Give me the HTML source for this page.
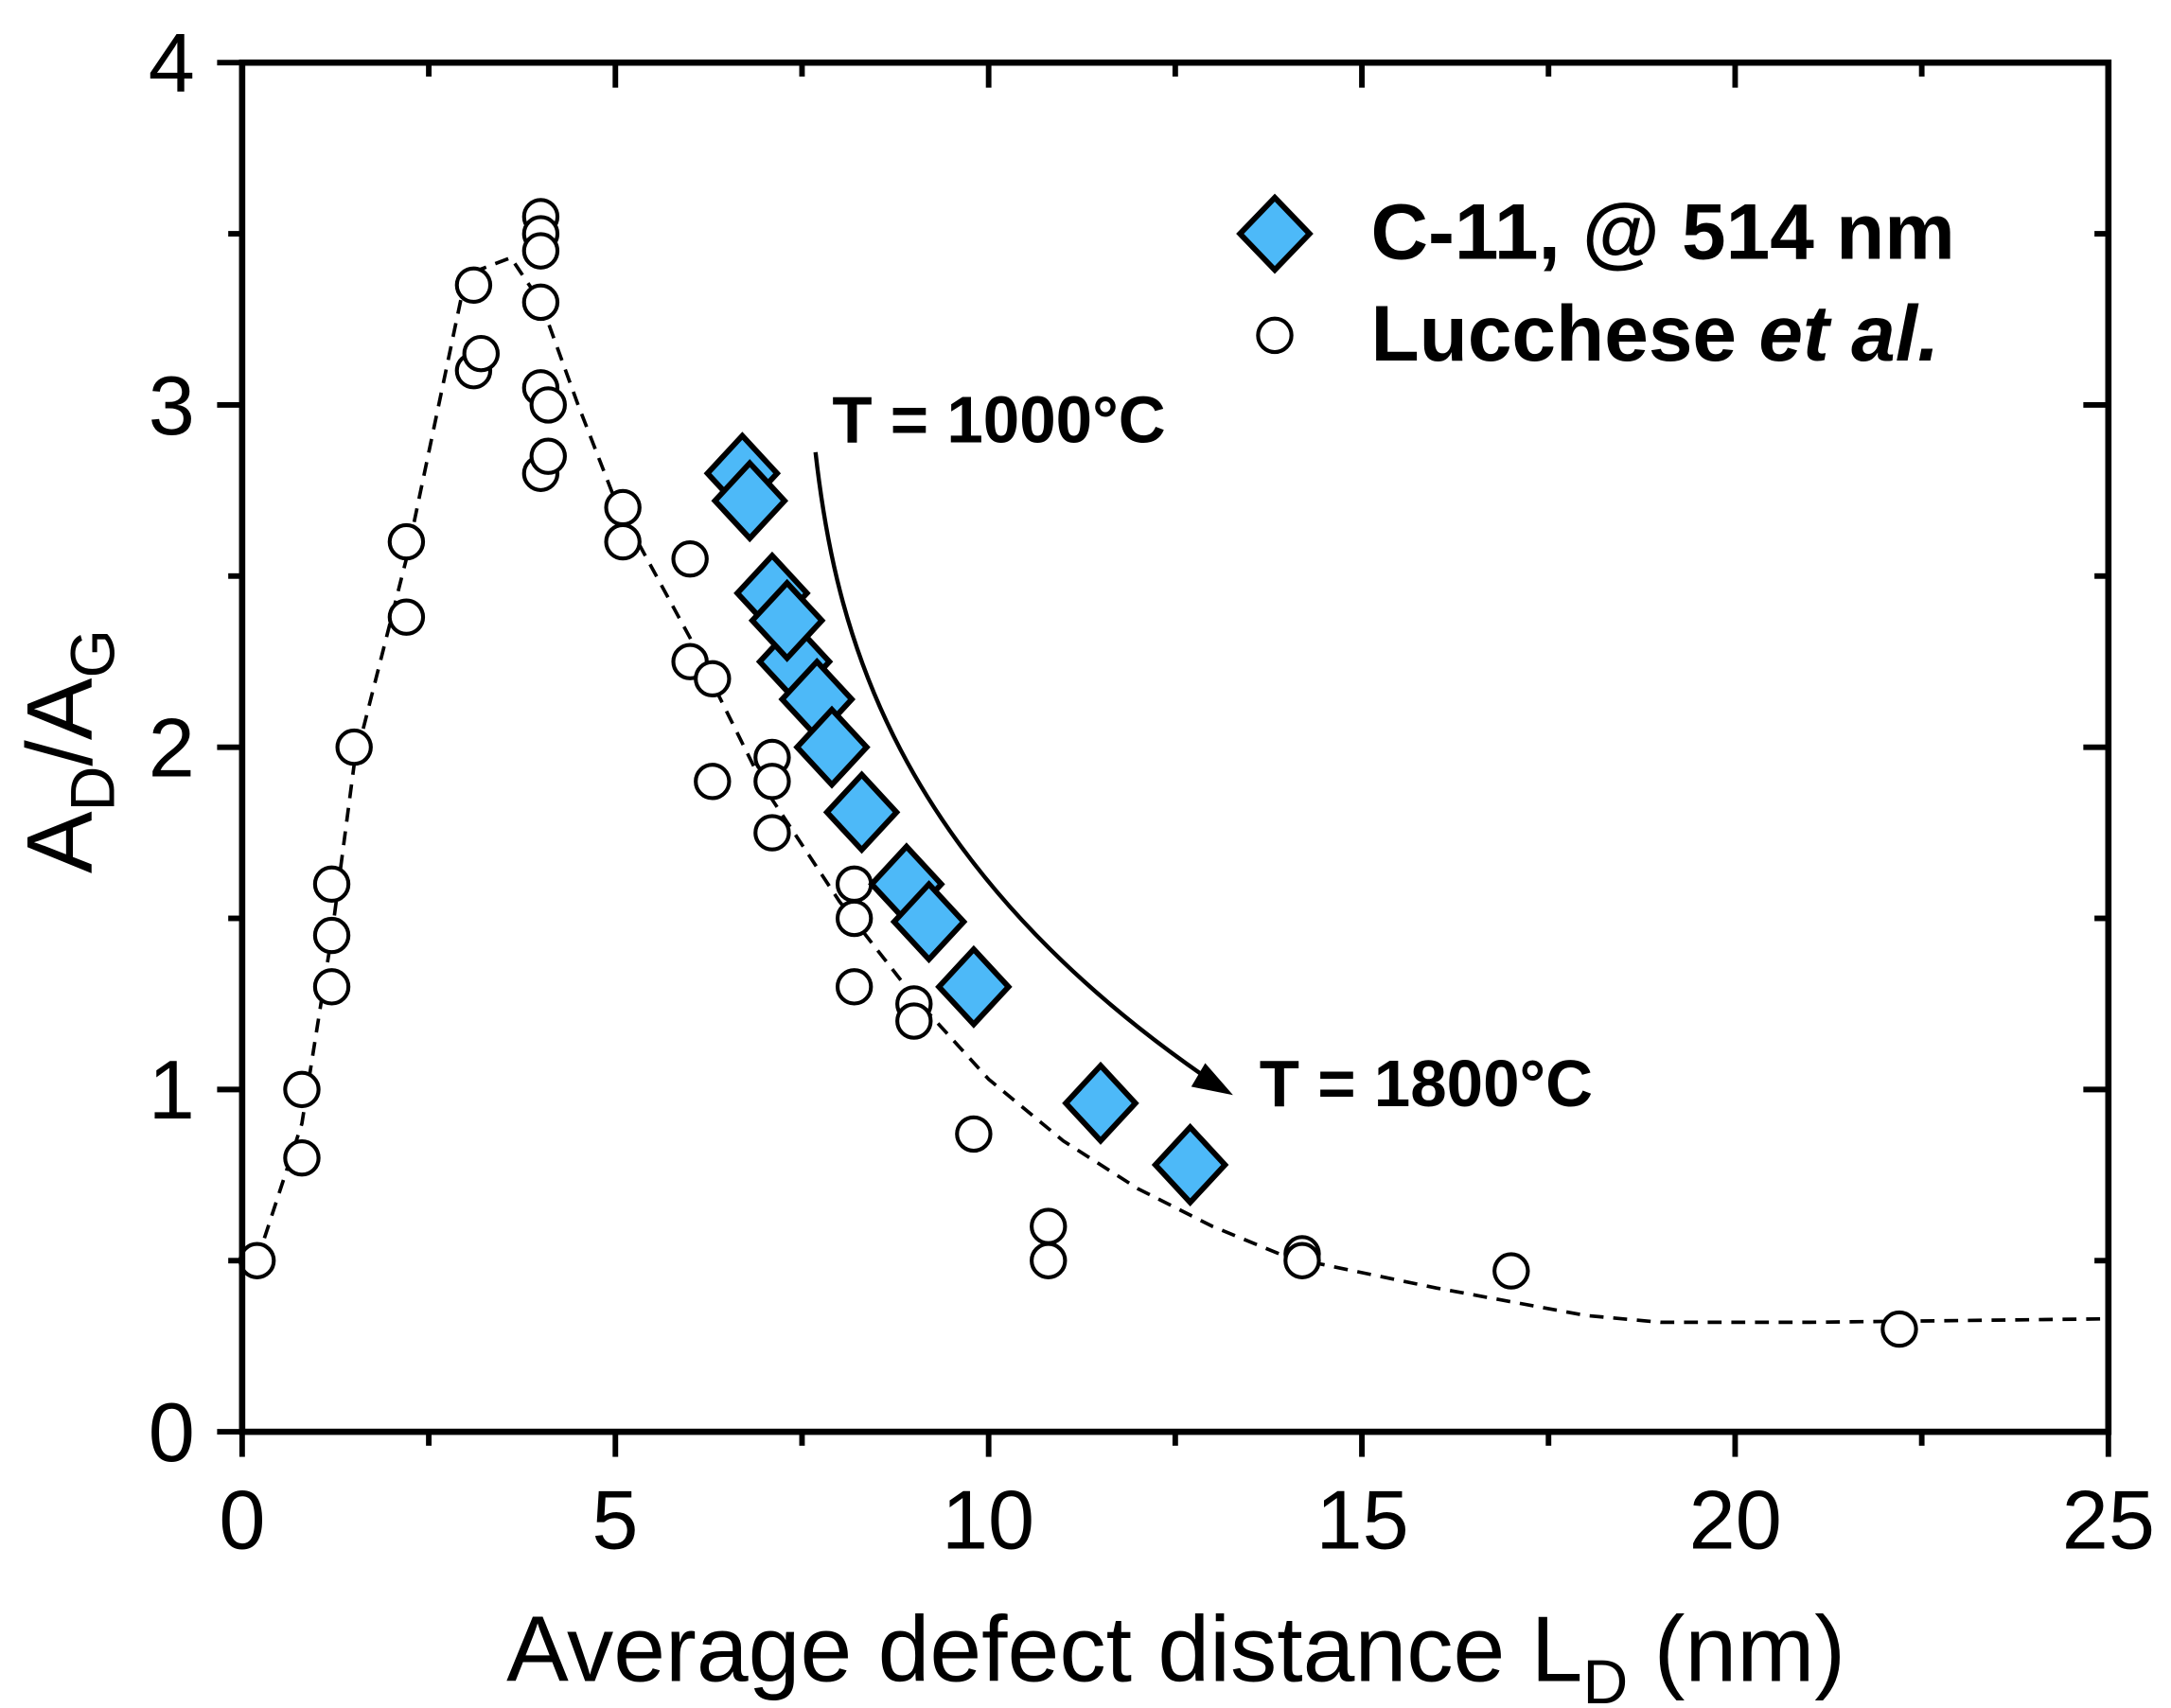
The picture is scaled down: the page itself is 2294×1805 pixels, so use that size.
<!DOCTYPE html>
<html><head><meta charset="utf-8"><style>html,body{margin:0;padding:0;background:#fff}svg{display:block}</style></head>
<body>
<svg id="s" xmlns="http://www.w3.org/2000/svg" width="2294" height="1805" viewBox="0 0 1560 1227.5" preserveAspectRatio="none" font-family="Liberation Sans, Arial, sans-serif">
<rect width="1560" height="1227.5" fill="#fff"/>
<g id="dash"></g>
<g id="pts"></g>
<g id="axes"></g>
<path d="M586,325 C600,450 640,620 872,778" fill="none" stroke="#000" stroke-width="3"/>
<polygon points="886,787 856,781 866,764" fill="#000"/>
<text x="598" y="318" font-size="47" font-weight="bold">T = 1000°C</text>
<text x="905" y="795" font-size="47" font-weight="bold">T = 1800°C</text>
<polygon points="916,142 941,168 916,194 891,168" fill="#4DB9F8" stroke="#000" stroke-width="4"/>
<text x="985" y="186" font-size="57" font-weight="bold">C-11, @ 514 nm</text>
<circle cx="916" cy="241" r="12" fill="#fff" stroke="#000" stroke-width="2.8"/>
<text x="985" y="259" font-size="57" font-weight="bold">Lucchese <tspan font-style="italic">et al.</tspan></text>
<g font-size="60" text-anchor="end">
<text x="140" y="1050">0</text><text x="140" y="804">1</text><text x="140" y="558">2</text><text x="140" y="312">3</text><text x="140" y="66">4</text>
</g>
<g font-size="60" text-anchor="middle">
<text x="174" y="1113">0</text><text x="442" y="1113">5</text><text x="710" y="1113">10</text><text x="979" y="1113">15</text><text x="1247" y="1113">20</text><text x="1515" y="1113">25</text>
</g>
<text x="845" y="1208" font-size="67" text-anchor="middle">Average defect distance L<tspan font-size="45" dy="16">D</tspan><tspan dy="-16"> (nm)</tspan></text>
<text transform="translate(66,540) rotate(-90)" font-size="67" text-anchor="middle">A<tspan font-size="45" dy="16">D</tspan><tspan dy="-16">/A</tspan><tspan font-size="45" dy="16">G</tspan></text>
</svg>
<script>
var NS="http://www.w3.org/2000/svg";
function X(x){return 174+53.64*x}function Y(y){return 1029-246*y}
function el(p,t,a){var e=document.createElementNS(NS,t);for(var k in a)e.setAttribute(k,a[k]);document.getElementById(p).appendChild(e);return e}
var L=[[0.2,0.5],[0.8,0.9],[1.2,1.45],[1.5,1.95],[2.2,2.55],[3.0,3.38],[3.6,3.43],[4.0,3.3],[4.5,3.0],[5.0,2.72],[6.0,2.32],[7.0,1.88],[8.0,1.55],[9.0,1.27],[10.0,1.03],[11,0.85],[12,0.71],[13,0.6],[14,0.51],[16,0.42],[18,0.34],[19,0.32],[21,0.32],[25,0.33]];
var d="";L.forEach(function(p,i){d+=(i?"L":"M")+X(p[0]).toFixed(1)+","+Y(p[1]).toFixed(1)});
el("dash","path",{d:d,fill:"none",stroke:"#000","stroke-width":2.5,"stroke-dasharray":"10,7"});
var C=[[0.2,0.5],[0.8,0.8],[0.8,1.0],[1.2,1.3],[1.2,1.45],[1.2,1.6],[1.5,2.0],[2.2,2.38],[2.2,2.6],[3.1,3.1],[3.1,3.35],[3.2,3.15],[4.0,3.55],[4.0,3.5],[4.0,3.45],[4.0,3.3],[4.0,3.05],[4.1,3.0],[4.0,2.8],[4.1,2.85],[5.1,2.7],[5.1,2.6],[6.0,2.55],[6.0,2.25],[6.3,2.2],[6.3,1.9],[7.1,1.97],[7.1,1.9],[7.1,1.75],[8.2,1.6],[8.2,1.5],[8.2,1.3],[9.0,1.25],[9.0,1.2],[9.8,0.87],[10.8,0.6],[10.8,0.5],[14.2,0.52],[14.2,0.5],[17.0,0.47],[22.2,0.3]];
C.forEach(function(p){el("pts","circle",{cx:X(p[0]),cy:Y(p[1]),r:12,fill:"#fff",stroke:"#000","stroke-width":2.8})});
var D=[[6.7,2.8],[6.8,2.72],[7.1,2.45],[7.4,2.25],[7.3,2.37],[7.7,2.14],[7.9,2.0],[8.3,1.81],[8.9,1.6],[9.2,1.49],[9.8,1.3],[11.5,0.96],[12.7,0.78]];
D.forEach(function(p){var x=X(p[0]),y=Y(p[1]);el("pts","polygon",{points:x+","+(y-27)+" "+(x+25)+","+y+" "+x+","+(y+27)+" "+(x-25)+","+y,fill:"#4DB9F8",stroke:"#000","stroke-width":4})});
el("axes","rect",{x:174,y:45,width:1341,height:984,fill:"none",stroke:"#000","stroke-width":4.5});
for(var i=0;i<=8;i++){var y=Y(i*0.5),m=i%2==0;
 el("axes","line",{x1:174-(m?18:10),y1:y,x2:174,y2:y,stroke:"#000","stroke-width":4});
 el("axes","line",{x1:1515,y1:y,x2:1515-(m?18:10),y2:y,stroke:"#000","stroke-width":4});}
for(var i=0;i<=10;i++){var x=X(i*2.5),m=i%2==0;
 el("axes","line",{x1:x,y1:1029,x2:x,y2:1029+(m?18:10),stroke:"#000","stroke-width":4});
 el("axes","line",{x1:x,y1:45,x2:x,y2:45+(m?18:10),stroke:"#000","stroke-width":4});}
</script>
</body></html>
